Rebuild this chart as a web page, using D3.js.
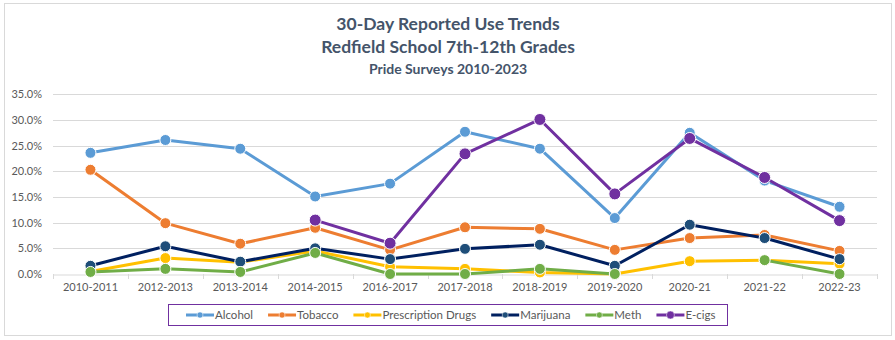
<!DOCTYPE html>
<html>
<head>
<meta charset="utf-8">
<script src="https://cdn.jsdelivr.net/npm/d3@7"></script>
<style>
  body { margin: 0; background: #fff; }
  svg { font-family: Lato, "Open Sans", sans-serif; }
</style>
</head>
<body>
<div id="chart"></div>
<script>
var w = 895, h = 340;

// chart data
var years = ["2010-2011", "2012-2013", "2013-2014", "2014-2015", "2016-2017", "2017-2018",
             "2018-2019", "2019-2020", "2020-21", "2021-22", "2022-23"];
var alcohol      = [23.6, 26.1, 24.4, 15.1, 17.6, 27.7, 24.4, 10.9, 27.5, 18.2, 13.1];
var tobacco      = [20.3, 9.9, 5.9, 9.0, 4.7, 9.1, 8.8, 4.7, 7.0, 7.6, 4.5];
var prescription = [0.5, 3.1, 2.3, 4.5, 1.4, 1.0, 0.3, 0.0, 2.5, 2.7, 2.0];
var marijuana    = [1.6, 5.4, 2.4, 5.0, 2.9, 4.9, 5.7, 1.6, 9.6, 7.0, 2.9];
var meth         = [0.4, 1.0, 0.4, 4.1, 0.0, 0.0, 1.0, 0.0, null, 2.7, 0.0];
var ecigs        = [null, null, null, 10.5, 6.0, 23.4, 30.1, 15.6, 26.4, 18.8, 10.4];
var yTicks = [0, 5, 10, 15, 20, 25, 30, 35];

var series = [
  {name: "Alcohol", values: alcohol, color: "#5B9BD5", marker: "#5B9BD5"},
  {name: "Tobacco", values: tobacco, color: "#ED7D31", marker: "#ED7D31"},
  {name: "Prescription Drugs", values: prescription, color: "#FFC000", marker: "#FFC000"},
  {name: "Marijuana", values: marijuana, color: "#002060", marker: "#1F4E79"},
  {name: "Meth", values: meth, color: "#70AD47", marker: "#70AD47"},
  {name: "E-cigs", values: ecigs, color: "#7030A0", marker: "#7030A0"}
];

var svg = d3.select("#chart").append("svg")
    .attr("width", w)
    .attr("height", h);

// outer chart border
svg.append("rect")
    .attr("x", 4.5).attr("y", 3.5)
    .attr("width", 887).attr("height", 332)
    .attr("fill", "#fff")
    .attr("stroke", "#d9d9d9");

// titles
var titles = [
  {text: "30-Day Reported Use Trends", y: 30, size: 17.5},
  {text: "Redfield School 7th-12th Grades", y: 53, size: 17.5},
  {text: "Pride Surveys 2010-2023", y: 74, size: 14}
];
svg.selectAll(".title")
  .data(titles)
  .enter().append("text")
    .attr("class", "title")
    .attr("x", 448)
    .attr("y", function(d) { return d.y; })
    .attr("text-anchor", "middle")
    .attr("font-weight", "bold")
    .attr("font-size", function(d) { return d.size + "px"; })
    .attr("fill", "#44546A")
    .text(function(d) { return d.text; });

var plotLeft = 53, plotRight = 877, plotTop = 94.3, plotBottom = 274;

var x = d3.scaleBand().domain(years).range([plotLeft, plotRight]);
var y = d3.scaleLinear().domain([0, 35]).range([plotBottom, plotTop]);

// gridlines
svg.append("g")
  .selectAll("line")
  .data(yTicks.slice(1))
  .enter().append("line")
    .attr("x1", plotLeft).attr("x2", plotRight)
    .attr("y1", function(d) { return Math.round(y(d)) + 0.5; })
    .attr("y2", function(d) { return Math.round(y(d)) + 0.5; })
    .attr("stroke", "#d9d9d9");

// y labels
svg.append("g")
  .selectAll("text")
  .data(yTicks)
  .enter().append("text")
    .attr("x", 42)
    .attr("y", function(d) { return y(d) + 4; })
    .attr("text-anchor", "end")
    .attr("font-size", "11px")
    .attr("fill", "#595959")
    .text(function(d) { return d.toFixed(1) + "%"; });

// x axis
var xAxis = svg.append("g")
    .attr("transform", "translate(0," + (plotBottom + 0.5) + ")")
    .call(d3.axisBottom(x).tickSize(0).tickPadding(9));
xAxis.select(".domain").attr("stroke", "#d9d9d9");
xAxis.selectAll("text").attr("font-size", "11px").attr("fill", "#595959")
    .attr("font-family", "Lato, 'Open Sans', sans-serif");

// category boundary ticks
svg.append("g")
  .selectAll("line")
  .data(years.concat(["end"]))
  .enter().append("line")
    .attr("x1", function(d, i) { return Math.round(plotLeft + i * x.step()) + 0.5; })
    .attr("x2", function(d, i) { return Math.round(plotLeft + i * x.step()) + 0.5; })
    .attr("y1", plotBottom).attr("y2", plotBottom + 5)
    .attr("stroke", "#d9d9d9");

var cx = function(i) { return x(years[i]) + x.bandwidth() / 2; };

var line = d3.line()
    .defined(function(d) { return d != null; })
    .x(function(d, i) { return cx(i); })
    .y(function(d) { return y(d); });

series.forEach(function(s) {
  var g = svg.append("g");
  g.append("path")
      .attr("d", line(s.values))
      .attr("fill", "none")
      .attr("stroke", s.color)
      .attr("stroke-width", 3)
      .attr("stroke-linejoin", "round");
  g.selectAll("circle")
    .data(s.values.map(function(v, i) { return {v: v, i: i}; })
                  .filter(function(d) { return d.v != null; }))
    .enter().append("circle")
      .attr("cx", function(d) { return cx(d.i); })
      .attr("cy", function(d) { return y(d.v); })
      .attr("r", s.name == "E-cigs" ? 6 : 5.5)
      .attr("fill", s.marker)
      .attr("stroke", "#fff")
      .attr("stroke-width", 1);
});

// legend
var legend = svg.append("g");
legend.append("rect")
    .attr("x", 168.5).attr("y", 304.5)
    .attr("width", 559).attr("height", 21)
    .attr("fill", "#fff")
    .attr("stroke", "#7030A0")
    .attr("stroke-width", 1);

var lx = 186;
series.forEach(function(s) {
  var item = legend.append("g");
  item.append("line")
      .attr("x1", lx).attr("x2", lx + 28)
      .attr("y1", 315).attr("y2", 315)
      .attr("stroke", s.color).attr("stroke-width", 3);
  item.append("circle")
      .attr("cx", lx + 14).attr("cy", 315)
      .attr("r", s.name == "E-cigs" ? 4 : 3)
      .attr("fill", s.marker)
      .attr("stroke", "#fff").attr("stroke-width", 0.5);
  var t = item.append("text")
      .attr("x", lx + 29)
      .attr("y", 319)
      .attr("font-size", "11.5px")
      .attr("fill", "#595959")
      .text(s.name);
  lx += 29 + t.node().getComputedTextLength() + 15;
});
</script>
</body>
</html>
